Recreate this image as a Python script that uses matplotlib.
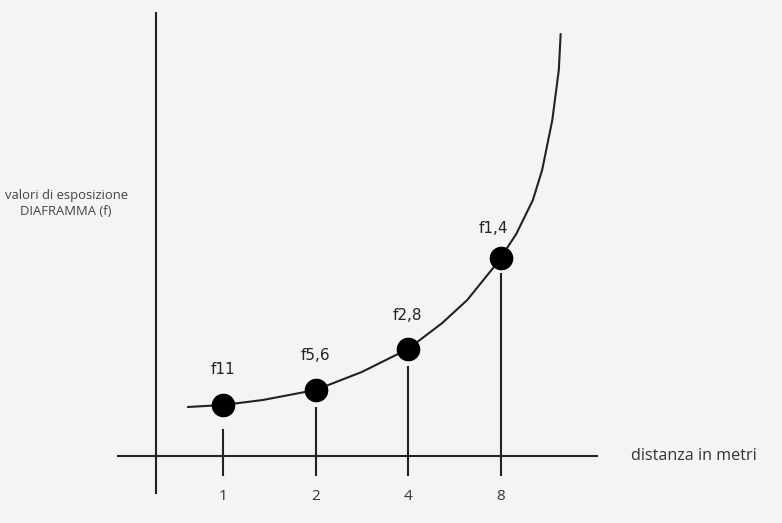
import matplotlib.pyplot as plt

# distanze (posizioni sull'asse) e valori di esposizione
distanze = ["1", "2", "4", "8"]
pos = [1, 2, 3, 4]
esposizione = [5.1, 6.6, 10.7, 19.8]
diaframmi = ["f11", "f5,6", "f2,8", "f1,4"]

# curva
curva_x = [0.62, 1.0, 1.43, 2.0, 2.5, 3.0, 3.37, 3.64, 3.92, 4.0,
           4.17, 4.35, 4.45, 4.56, 4.63, 4.65]
curva_y = [4.9, 5.1, 5.6, 6.6, 8.4, 10.7, 13.3, 15.6, 18.8, 19.8,
           22.2, 25.6, 28.6, 33.6, 38.6, 42.2]

bg = "#f4f4f4"
ink = "#222222"

fig = plt.figure(figsize=(7.82, 5.23), dpi=100, facecolor=bg)
ax = fig.add_axes([0, 0, 1, 1], facecolor=bg)
ax.set_xlim(-1.411, 7.043)
ax.set_ylim(-6.7, 45.6)
ax.axis("off")

# assi
ax.plot([-0.146, 5.054], [0, 0], color=ink, lw=1.5, solid_capstyle="butt")
ax.plot([0.276, 0.276], [-3.8, 44.4], color=ink, lw=1.5, solid_capstyle="butt")

# curva
ax.plot(curva_x, curva_y, color=ink, lw=1.5, solid_capstyle="round",
        solid_joinstyle="round")

# linee verticali sotto i punti
gap = [2.4, 1.7, 1.7, 1.5]
for x, y, g in zip(pos, esposizione, gap):
    ax.plot([x, x], [-2.0, y - g], color=ink, lw=1.5,
            solid_capstyle="butt")

ax.plot(pos, esposizione, "o", color="black", ms=16, zorder=3)

# etichette diaframma
offs = [(0.0, 3.5), (0.0, 3.4), (-0.01, 3.4), (-0.08, 3.0)]
for x, y, t, (dx, dy) in zip(pos, esposizione, diaframmi, offs):
    ax.text(x + dx, y + dy, t, ha="center", va="center", fontsize=11,
            color=ink, family="DejaVu Sans")

for x, t in zip(pos, distanze):
    ax.text(x, -4.1, t, ha="center", va="center", fontsize=11,
            color="#333333", family="Open Sans")

ax.text(5.41, 0.05, "distanza in metri", ha="left", va="center",
        fontsize=11.6, color="#333333", family="Open Sans")
ax.text(-0.697, 25.25, "valori di esposizione\nDIAFRAMMA (f)", ha="center",
        va="center", fontsize=9.4, color="#444444", family="Open Sans",
        linespacing=1.25)

fig.savefig("out.png", dpi=100, facecolor=bg)
